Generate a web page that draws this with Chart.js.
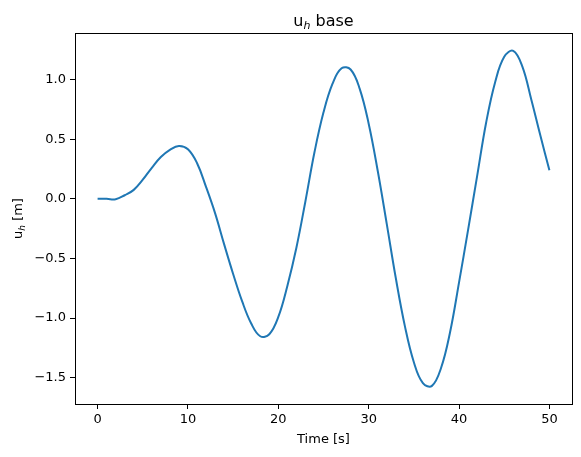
<!DOCTYPE html>
<html>
<head>
<meta charset="utf-8">
<script src="https://cdn.jsdelivr.net/npm/chart.js@4/dist/chart.umd.min.js"></script>
<style>
    html, body { margin: 0; padding: 0; background: #fff; }
    #wrap { width: 581px; height: 457px; }
</style>
</head>
<body>
<div id="wrap"><canvas id="baseChart"></canvas></div>
<script>
// time in seconds
const times = [0, 1, 2, 3, 4, 5, 6, 7, 8, 9,
    10, 11, 12, 13, 14, 15, 16, 17, 18, 19,
    20, 21, 22, 23, 24, 25, 26, 27, 28, 29,
    30, 31, 32, 33, 34, 35, 36, 37, 38, 39,
    40, 41, 42, 43, 44, 45, 46, 47, 48, 49, 50];

// horizontal displacement at base [m]
const uhBase = [0, 0, -0.003, 0.03, 0.075, 0.16, 0.26, 0.35, 0.41, 0.443,
    0.415, 0.30, 0.10, -0.12, -0.38, -0.63, -0.86, -1.045, -1.152, -1.135,
    -0.99, -0.73, -0.41, -0.02, 0.39, 0.725, 0.965, 1.094, 1.084, 0.924,
    0.63, 0.235, -0.21, -0.664, -1.065, -1.37, -1.545, -1.568, -1.42, -1.12,
    -0.70, -0.26, 0.19, 0.64, 0.98, 1.19, 1.24, 1.11, 0.83, 0.53, 0.24];

const xTicks = [0, 10, 20, 30, 40, 50];
const yTicks = [-1.5, -1.0, -0.5, 0.0, 0.5, 1.0];

const FONT = "'DejaVu Sans', sans-serif";

function fmtTick(v) {
    return v.toFixed(1).replace('-', '\u2212');
}

// draws "u" + italic subscript "h" + rest, starting at x (left), baseline y
function drawSubText(ctx, x, y, size, rest) {
    ctx.font = size + 'px ' + FONT;
    ctx.fillText('u', x, y);
    let w = ctx.measureText('u').width;
    ctx.font = 'italic ' + Math.round(size * 0.7) + 'px ' + FONT;
    ctx.fillText('h', x + w, y + size * 0.2);
    w += ctx.measureText('h').width;
    ctx.font = size + 'px ' + FONT;
    ctx.fillText(rest, x + w, y);
}

function subTextWidth(ctx, size, rest) {
    ctx.font = size + 'px ' + FONT;
    let w = ctx.measureText('u').width + ctx.measureText(rest).width;
    ctx.font = 'italic ' + Math.round(size * 0.7) + 'px ' + FONT;
    return w + ctx.measureText('h').width;
}

const framePlugin = {
    id: 'frame',
    afterDraw(chart) {
        const ctx = chart.ctx;
        const a = chart.chartArea;
        ctx.save();
        ctx.strokeStyle = '#000';
        ctx.lineWidth = 1;
        ctx.strokeRect(Math.round(a.left) + 0.5, Math.round(a.top) + 0.5,
            Math.round(a.right - a.left), Math.round(a.bottom - a.top));

        ctx.fillStyle = '#000';
        ctx.textBaseline = 'alphabetic';
        ctx.textAlign = 'left';
        // title
        const tw = subTextWidth(ctx, 16, ' base');
        drawSubText(ctx, (a.left + a.right) / 2 - tw / 2, 26, 16, ' base');
        // y label
        ctx.translate(22, (a.top + a.bottom) / 2);
        ctx.rotate(-Math.PI / 2);
        const lw = subTextWidth(ctx, 13, ' [m]');
        drawSubText(ctx, -lw / 2, 0, 13, ' [m]');
        ctx.restore();
    }
};

const ctx = document.getElementById('baseChart').getContext('2d');

new Chart(ctx, {
    type: 'line',
    data: {
        datasets: [{
            data: times.map((t, i) => ({ x: t, y: uhBase[i] })),
            borderColor: '#1f77b4',
            borderWidth: 2,
            pointRadius: 0,
            fill: false,
            tension: 0.4
        }]
    },
    options: {
        responsive: true,
        maintainAspectRatio: false,
        animation: false,
        layout: { padding: { top: 33, right: 9, left: 0, bottom: 0 } },
        plugins: {
            legend: { display: false },
            tooltip: { enabled: false }
        },
        scales: {
            x: {
                type: 'linear',
                min: -2.5,
                max: 52.5,
                afterBuildTicks: s => { s.ticks = xTicks.map(v => ({ value: v })); },
                afterFit: s => { s.height = 53; },
                grid: {
                    drawOnChartArea: false,
                    drawTicks: true,
                    tickLength: 5,
                    tickColor: '#000'
                },
                border: { display: true, color: '#000' },
                ticks: {
                    color: '#000',
                    font: { family: FONT, size: 13 },
                    padding: 3,
                    maxRotation: 0,
                    callback: v => String(v)
                },
                title: {
                    display: true,
                    text: 'Time [s]',
                    color: '#000',
                    font: { family: FONT, size: 13 },
                    padding: { top: 3, bottom: 10 }
                }
            },
            y: {
                type: 'linear',
                min: -1.72,
                max: 1.39,
                afterBuildTicks: s => { s.ticks = yTicks.map(v => ({ value: v })); },
                afterFit: s => { s.width = 75; },
                grid: {
                    drawOnChartArea: false,
                    drawTicks: true,
                    tickLength: 5,
                    tickColor: '#000'
                },
                border: { display: true, color: '#000' },
                ticks: {
                    color: '#000',
                    font: { family: FONT, size: 13 },
                    padding: 4,
                    callback: v => fmtTick(v)
                }
            }
        }
    },
    plugins: [framePlugin]
});
</script>
</body>
</html>
